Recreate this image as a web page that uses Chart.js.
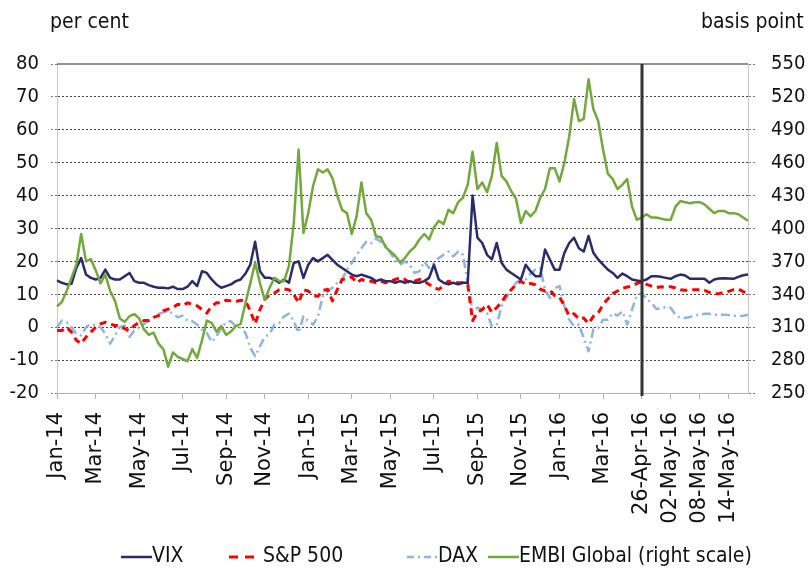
<!DOCTYPE html>
<html>
<head>
<meta charset="utf-8">
<title>Volatility and spreads</title>
<script src="https://cdn.jsdelivr.net/npm/chart.js@4.4.0/dist/chart.umd.min.js"></script>
<style>
  html, body { margin: 0; padding: 0; background: #fff; }
  #wrap { position: relative; width: 812px; height: 573px; }
</style>
</head>
<body>
<div id="wrap"><canvas id="marketChart"></canvas></div>
<script>
// weekly observations, from 1 Jan 2014 up to 20 Apr 2016
const vixWeekly = [
  14.2, 13.5, 13, 13.2, 18, 21, 16, 15, 14.5, 15, 17.5, 15, 14.5, 14.5, 15.5, 16.5, 14, 13.5, 13.5, 12.8,
  12.3, 12, 12, 11.8, 12.3, 11.6, 11.6, 12.3, 14, 12.5, 17, 16.5, 14.5, 13, 12, 12.5, 13, 14, 14.5, 16.3,
  19, 26, 17, 15, 15, 14.5, 13.5, 14.5, 13.5, 19.5, 20, 15, 19, 21, 20, 21, 22, 20.5, 19, 18,
  17, 16, 15.5, 16, 15.5, 15, 14, 14.5, 14, 14, 13.5, 14, 13.5, 14, 13.5, 13.5, 14, 15, 19, 14.5,
  13.5, 13, 13.5, 13, 13.5, 13.5, 40, 27.2, 25.6, 22, 20.6, 25.6, 19.6, 17.5, 16.5, 15.5, 14.5, 19, 17, 15.5,
  15.5, 23.6, 20.6, 17.5, 17.5, 22.6, 25.6, 27.2, 24, 23, 27.7, 22.6, 20.6, 19, 17.5, 16.5, 15, 16.3, 15.5, 14.5,
  14.2
];
const spWeekly = [
  -1, -1, 0, -1.5, -4, -5, -3, -1.5, 0, 1, 1.5, 1, 0.5, 0.5, -0.5, -1, 0.5, 1.5, 2, 2,
  3, 3.5, 5, 5.5, 6, 7, 6.5, 7.4, 7, 6.5, 5.4, 4.3, 6.4, 7.4, 7.5, 8.2, 8, 7.8, 8.2, 8,
  5, 1, 5.4, 8.4, 10, 10.4, 11.4, 11.6, 11.4, 10, 7.4, 11.4, 11, 9.6, 9.4, 11.2, 11.5, 8, 11.4, 14.5,
  14.7, 15.3, 13.5, 14.5, 14, 14, 13.5, 14, 13.5, 14, 14.5, 15, 14.5, 13.5, 14, 14.5, 14, 13, 12, 11.5,
  12.5, 14, 13.5, 13.5, 13.5, 13, 2, 4.5, 5.4, 6.9, 4.5, 6, 7.6, 9.9, 11.4, 13, 14, 13, 13.3, 12.9,
  11.6, 11, 11.2, 9.6, 9.2, 6.4, 3.5, 4.1, 2.5, 2.8, 1.1, 3.3, 4.3, 6.9, 8.6, 10.2, 11, 11.8, 12.2, 12.5,
  13.3
];
const daxWeekly = [
  0, 2, 1.5, 0, -2, -2.5, 0, 1, 0.5, 0, -2, -5, -2.5, 0, 0.5, -3, -1, 0, 1, 2,
  3, 4, 4.5, 5, 4, 3, 3.5, 2, 1.8, 0.8, -0.7, -1.7, -4.5, -2.8, -0.2, 1.5, 1.8, 0.3, -0.2, -1.7,
  -6.3, -8.8, -5.8, -3, -2, 0.8, 1.3, 3.3, 4.1, 1.8, -1.7, 3.3, 1.8, 0.8, 3.3, 9.4, 11, 12, 13.5, 14.5,
  17.5, 19.5, 22, 24, 26, 25.5, 27, 26, 25, 22.5, 20.5, 19, 20, 19, 16.5, 17, 20, 18, 19.5, 21,
  22, 23, 21.5, 23, 22, 13.5, 4.8, 5.9, 5.4, 4.3, 0.3, 0.8, 6.4, 8.9, 11.4, 13.5, 14.5, 14.5, 16.3, 17.5,
  18, 11.4, 8.9, 11.9, 12.5, 6.4, 2.3, 0.3, 0.8, -3.3, -7.3, -0.7, -0.2, 2.3, 2.3, 4.3, 3.5, 4.8, 0.8, 5.4,
  9.6
];
const embiWeekly = [
  329, 333, 343, 355, 367, 395, 370, 372, 362, 350, 358, 343, 334, 318, 315, 320, 322, 318, 308, 303,
  305, 295, 290, 274, 287, 283, 281, 279, 290, 282, 298, 316, 314, 306, 311, 303, 306, 311, 313, 332,
  350, 369, 350, 335, 346, 355, 352, 352, 366, 405, 472, 396, 414, 439, 454, 451, 454, 446, 430, 417,
  414, 395, 411, 442, 414, 408, 393, 392, 383, 379, 375, 369, 373, 379, 383, 390, 395, 390, 401, 407,
  404, 417, 414, 424, 428, 440, 470, 436, 442, 433, 448, 478, 448, 443, 434, 427, 405, 416, 411, 416,
  428, 436, 455, 455, 443, 460, 484, 518, 498, 500, 536, 509, 498, 472, 450, 445, 436, 440, 445, 420,
  408
];

// daily observations, 26 Apr 2016 to 18 May 2016
const vixDaily = [14, 14.5, 15.5, 15.5, 15.3, 15, 14.7, 15.5, 16, 15.7, 14.7, 14.7, 14.7, 14.7, 13.5, 14.5, 14.8, 14.9, 14.8, 14.7, 15.3, 15.8, 16];
const spDaily = [13.8, 13, 12.5, 12, 12.3, 12.2, 12.3, 11.9, 11.4, 11.2, 11.3, 11.4, 11.4, 11.2, 10.6, 10.2, 10.2, 10.6, 10.9, 11.4, 11.6, 10.8, 10.1];
const daxDaily = [10.4, 8.6, 7.4, 5.6, 5.6, 6.2, 5.9, 3.8, 2.8, 2.8, 3.1, 3.5, 3.8, 4.1, 4.1, 3.8, 3.8, 3.8, 3.7, 3.5, 3.3, 3.5, 3.8];
const embiDaily = [410, 413, 410, 410, 409, 408, 408, 420, 425, 424, 423, 424, 424, 422, 418, 414, 416, 416, 414, 414, 413, 410, 407];

const monthTicks = ['Jan-14', 'Mar-14', 'May-14', 'Jul-14', 'Sep-14', 'Nov-14', 'Jan-15', 'Mar-15',
                    'May-15', 'Jul-15', 'Sep-15', 'Nov-15', 'Jan-16', 'Mar-16'];
const dayTicks = ['26-Apr-16', '02-May-16', '08-May-16', '14-May-16'];
const seriesNames = ['VIX', 'S&P 500', 'DAX', 'EMBI Global (right scale)'];

const MONTHS = ['Jan', 'Feb', 'Mar', 'Apr', 'May', 'Jun', 'Jul', 'Aug', 'Sep', 'Oct', 'Nov', 'Dec'];
const DAY = 864e5;
const weeklyStart = Date.UTC(2014, 0, 1);
const dailyStart = Date.UTC(2016, 3, 26);

function fmtDate(t) {
  const d = new Date(t);
  return String(d.getUTCDate()).padStart(2, '0') + '-' + MONTHS[d.getUTCMonth()] + '-' + String(d.getUTCFullYear()).slice(2);
}

// category labels: weekly dates, then daily dates
const categories = [];
for (let i = 0; i < vixWeekly.length; i++) categories.push(fmtDate(weeklyStart + i * 7 * DAY));
for (let i = 0; i < vixDaily.length; i++) categories.push(fmtDate(dailyStart + i * DAY));

// which category carries which visible tick label
const tickAt = {};
monthTicks.forEach(lbl => {
  const [mon, yy] = lbl.split('-');
  const t = Date.UTC(2000 + Number(yy), MONTHS.indexOf(mon), 1);
  tickAt[Math.round((t - weeklyStart) / DAY / 7)] = lbl;
});
dayTicks.forEach(lbl => { tickAt[categories.indexOf(lbl)] = lbl; });
const splitIndex = categories.indexOf('26-Apr-16');

const condensed = '"DejaVu Sans Condensed", "Liberation Sans Narrow", "DejaVu Sans", sans-serif';

// titles, legend, frame and the separator line
const decorations = {
  id: 'decorations',
  afterDatasetsDraw(chart) {
    const {ctx, chartArea: a, scales} = chart;
    ctx.save();
    // top frame
    ctx.strokeStyle = '#6e6e6e';
    ctx.lineWidth = 1.5;
    ctx.beginPath();
    ctx.moveTo(a.left, a.top);
    ctx.lineTo(a.right, a.top);
    ctx.stroke();
    // vertical separator between weekly and daily data
    const xs = Math.round(scales.x.getPixelForValue(splitIndex));
    ctx.strokeStyle = '#333';
    ctx.lineWidth = 3;
    ctx.beginPath();
    ctx.moveTo(xs, a.top);
    ctx.lineTo(xs, a.bottom + 3);
    ctx.stroke();
    ctx.restore();
  },
  afterDraw(chart) {
    const {ctx} = chart;
    ctx.save();
    ctx.fillStyle = '#111';
    ctx.font = '21px ' + condensed;
    ctx.textBaseline = 'alphabetic';
    ctx.textAlign = 'left';
    ctx.fillText('per cent', 50, 28);
    ctx.fillText('basis point', 701, 28);

    // legend
    const legendX = [121, 229, 407, 488];
    const legendDash = [[], [9, 7], [7, 4, 2, 4], []];
    const lineLen = 31;
    const y = 557;
    ctx.font = '21px ' + condensed;
    chart.data.datasets.forEach((ds, i) => {
      const x0 = legendX[i];
      ctx.strokeStyle = ds.borderColor;
      ctx.lineWidth = ds.borderWidth;
      ctx.setLineDash(legendDash[i]);
      ctx.beginPath();
      ctx.moveTo(x0, y);
      ctx.lineTo(x0 + lineLen, y);
      ctx.stroke();
      ctx.setLineDash([]);
      ctx.textBaseline = 'middle';
      ctx.fillStyle = '#111';
      ctx.fillText(ds.label, x0 + lineLen + (i === 1 ? 3 : 0), y);
    });
    ctx.restore();
  }
};

const ctx = document.getElementById('marketChart').getContext('2d');
const marketChart = new Chart(ctx, {
  type: 'line',
  data: {
    labels: categories,
    datasets: [
      {
        label: seriesNames[0],
        data: vixWeekly.concat(vixDaily),
        borderColor: '#2b2a6b',
        borderWidth: 2.5,
        yAxisID: 'y',
        order: 1
      },
      {
        label: seriesNames[1],
        data: spWeekly.concat(spDaily),
        borderColor: '#ff0000',
        borderWidth: 3,
        borderDash: [7, 5],
        yAxisID: 'y',
        order: 2
      },
      {
        label: seriesNames[2],
        data: daxWeekly.concat(daxDaily),
        borderColor: '#8db4e2',
        borderWidth: 2.5,
        borderDash: [9, 4, 2, 4],
        yAxisID: 'y',
        order: 3
      },
      {
        label: seriesNames[3],
        data: embiWeekly.concat(embiDaily),
        borderColor: '#72a83c',
        borderWidth: 2.5,
        yAxisID: 'y1',
        order: 0
      }
    ]
  },
  options: {
    responsive: true,
    maintainAspectRatio: false,
    animation: false,
    devicePixelRatio: 1,
    layout: { padding: { top: 64, left: 0, right: 0, bottom: 0 } },
    elements: {
      point: { radius: 0, hoverRadius: 0 },
      line: { tension: 0, borderJoinStyle: 'round', fill: false }
    },
    plugins: {
      legend: { display: false },
      tooltip: { enabled: false }
    },
    scales: {
      x: {
        type: 'category',
        offset: false,
        grid: {
          drawOnChartArea: false,
          drawTicks: true,
          tickLength: 6,
          color: c => (tickAt[c.index] !== undefined ? '#b4b4b4' : 'rgba(0,0,0,0)')
        },
        border: { display: true, color: '#b4b4b4' },
        ticks: {
          autoSkip: false,
          minRotation: 90,
          maxRotation: 90,
          padding: 13,
          color: '#111',
          font: { family: '"DejaVu Sans", sans-serif', size: 21 },
          callback: (value, index) => (tickAt[index] !== undefined ? tickAt[index] : '')
        },
        afterFit: scale => { scale.height = 180; }
      },
      y: {
        position: 'left',
        min: -20,
        max: 80,
        ticks: {
          stepSize: 10,
          padding: 12,
          color: '#111',
          font: { family: condensed, size: 20 }
        },
        grid: {
          color: c => (c.tick && (c.tick.value === -20 || c.tick.value === 80) ? 'rgba(0,0,0,0)' : '#444'),
          lineWidth: 1,
          drawTicks: true,
          tickLength: 6,
          tickColor: '#777',
          tickBorderDash: [2, 2]
        },
        border: { display: true, color: '#c8c8c8', dash: [2, 2] },
        afterFit: scale => { scale.width = 57; }
      },
      y1: {
        position: 'right',
        min: 250,
        max: 550,
        ticks: {
          stepSize: 30,
          padding: 15,
          color: '#111',
          font: { family: condensed, size: 20 }
        },
        grid: {
          drawOnChartArea: false,
          drawTicks: true,
          tickLength: 8,
          tickColor: '#777',
          tickBorderDash: [2, 2]
        },
        border: { display: true, color: '#c8c8c8' },
        afterFit: scale => { scale.width = 64; }
      }
    }
  },
  plugins: [decorations]
});
</script>
</body>
</html>
